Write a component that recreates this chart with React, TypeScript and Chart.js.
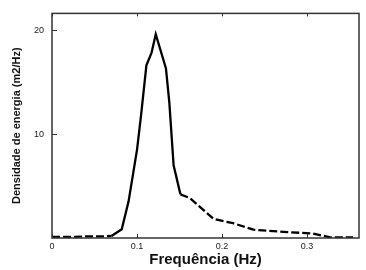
import React, { useEffect, useRef } from "react";
import { Chart, registerables } from "chart.js";

Chart.register(...registerables);

const freq = [0, 0.02, 0.04, 0.06, 0.07, 0.082, 0.09, 0.1, 0.105, 0.111, 0.117, 0.122, 0.134, 0.138, 0.143, 0.151, 0.162, 0.19, 0.213, 0.237, 0.272, 0.307, 0.327, 0.354];
const density = [0.1, 0.1, 0.15, 0.15, 0.2, 0.84, 3.5, 8.5, 12.0, 16.6, 17.8, 19.6, 16.3, 13.0, 7.0, 4.2, 3.85, 1.83, 1.42, 0.8, 0.59, 0.43, 0.06, 0.05];
const xTicks = [0, 0.1, 0.2, 0.3];
const yTicks = [10, 20];
const xTitle = "Frequência (Hz)";
const yTitle = "Densidade de energia (m2/Hz)";

const frame = {
  id: "frame",
  afterDraw(chart: any) {
    const { ctx, chartArea: a, scales } = chart;
    ctx.save();
    ctx.strokeStyle = "#333";
    ctx.lineWidth = 1.5;
    ctx.strokeRect(a.left, a.top, a.right - a.left, a.bottom - a.top);
    ctx.lineWidth = 1;
    ctx.beginPath();
    for (const v of yTicks) {
      const p = Math.round(scales.y.getPixelForValue(v)) + 0.5;
      ctx.moveTo(a.left, p);
      ctx.lineTo(a.left + 5, p);
    }
    for (const v of xTicks) {
      const p = Math.round(scales.x.getPixelForValue(v)) + 0.5;
      ctx.moveTo(p, a.bottom);
      ctx.lineTo(p, a.bottom - 4);
      ctx.moveTo(p, a.top);
      ctx.lineTo(p, a.top + 3);
    }
    ctx.stroke();
    ctx.restore();
  },
};

export default function App() {
  const ref = useRef<HTMLCanvasElement>(null);
  useEffect(() => {
    document.body.style.margin = "0";
    const pts = freq.map((f, i) => ({ x: f, y: density[i] }));
    const chart = new Chart(ref.current!, {
      type: "line",
      data: {
        datasets: [
          {
            data: pts,
            borderColor: "#000",
            borderWidth: 2.3,
            pointRadius: 0,
            tension: 0,
            fill: false,
            segment: {
              borderDash: (c: any) =>
                c.p0.parsed.x < 0.07 || c.p0.parsed.x >= 0.151 ? [8, 3] : undefined,
            },
          },
        ],
      },
      options: {
        animation: false,
        responsive: false,
        layout: { padding: { left: 0, right: 7, top: 6, bottom: 0 } },
        plugins: { legend: { display: false }, tooltip: { enabled: false } },
        scales: {
          x: {
            type: "linear",
            min: 0,
            max: 0.361,
            afterBuildTicks: (s: any) => {
              s.ticks = xTicks.map((v) => ({ value: v }));
            },
            afterFit: (s: any) => {
              s.height = 32;
            },
            grid: { display: false, drawTicks: false },
            border: { display: false },
            ticks: {
              padding: 3,
              color: "#222",
              font: { family: "Arial, 'Liberation Sans', sans-serif", size: 9 },
              callback: (v: any) => (v === 0 ? "0" : Number(v).toFixed(1)),
            },
            title: {
              display: true,
              text: xTitle,
              color: "#111",
              padding: { top: 0, bottom: 1 },
              font: { family: "Arial, 'Liberation Sans', sans-serif", size: 15, weight: "bold" },
            },
          },
          y: {
            type: "linear",
            min: 0,
            max: 21.6,
            afterBuildTicks: (s: any) => {
              s.ticks = yTicks.map((v) => ({ value: v }));
            },
            afterFit: (s: any) => {
              s.width = 52;
            },
            grid: { display: false, drawTicks: false },
            border: { display: false },
            ticks: {
              padding: 8,
              color: "#222",
              font: { family: "Arial, 'Liberation Sans', sans-serif", size: 9 },
            },
            title: {
              display: true,
              text: yTitle,
              color: "#111",
              padding: { top: 10, bottom: 2 },
              font: { family: "Arial, 'Liberation Sans', sans-serif", size: 11, weight: "bold" },
            },
          },
        },
      },
      plugins: [frame],
    });
    return () => chart.destroy();
  }, []);
  return (
    <div style={{ position: "fixed", left: 0, top: 0, width: 366, height: 270, background: "#fff" }}>
      <canvas ref={ref} width={366} height={270} />
    </div>
  );
}
